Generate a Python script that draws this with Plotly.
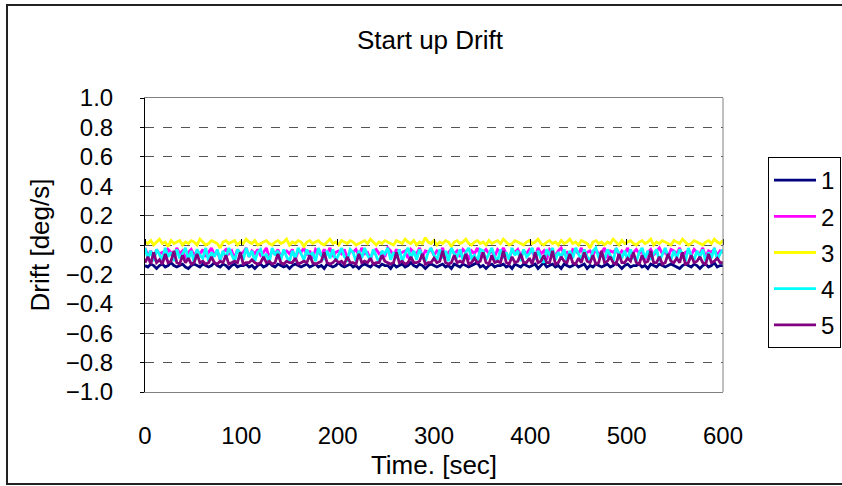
import numpy as np
import plotly.graph_objects as go

time_s = np.arange(0, 601, 3)

series_names = ["1", "2", "3", "4", "5"]
series_colors = ["#000080", "#FF00FF", "#FFFF00", "#00FFFF", "#800080"]

drift_1 = [
    -0.14,-0.15,-0.13,-0.14,-0.16,-0.14,-0.13,-0.15,-0.14,-0.12,
    -0.14,-0.15,-0.14,-0.13,-0.15,-0.16,-0.14,-0.13,-0.14,-0.15,
    -0.13,-0.14,-0.15,-0.14,-0.12,-0.14,-0.15,-0.13,-0.14,-0.16,
    -0.14,-0.13,-0.15,-0.14,-0.14,-0.13,-0.15,-0.14,-0.16,-0.14,
    -0.13,-0.15,-0.14,-0.12,-0.14,-0.15,-0.13,-0.14,-0.15,-0.14,
    -0.16,-0.14,-0.13,-0.14,-0.15,-0.14,-0.13,-0.15,-0.14,-0.13,
    -0.15,-0.14,-0.16,-0.13,-0.14,-0.15,-0.14,-0.12,-0.14,-0.15,
    -0.14,-0.13,-0.15,-0.14,-0.16,-0.14,-0.13,-0.14,-0.15,-0.13,
    -0.14,-0.15,-0.13,-0.14,-0.14,-0.16,-0.13,-0.15,-0.14,-0.13,
    -0.15,-0.14,-0.12,-0.14,-0.15,-0.13,-0.14,-0.16,-0.14,-0.13,
    -0.14,-0.15,-0.14,-0.13,-0.15,-0.14,-0.16,-0.13,-0.14,-0.15,
    -0.13,-0.14,-0.15,-0.14,-0.13,-0.12,-0.15,-0.14,-0.16,-0.14,
    -0.13,-0.15,-0.14,-0.14,-0.13,-0.15,-0.14,-0.16,-0.13,-0.14,
    -0.15,-0.13,-0.14,-0.15,-0.14,-0.13,-0.16,-0.14,-0.12,-0.15,
    -0.14,-0.13,-0.15,-0.14,-0.16,-0.13,-0.14,-0.15,-0.14,-0.13,
    -0.15,-0.14,-0.13,-0.16,-0.14,-0.15,-0.13,-0.14,-0.15,-0.14,
    -0.13,-0.15,-0.14,-0.12,-0.14,-0.16,-0.14,-0.13,-0.15,-0.14,
    -0.14,-0.13,-0.15,-0.14,-0.16,-0.13,-0.14,-0.15,-0.13,-0.14,
    -0.15,-0.14,-0.13,-0.14,-0.15,-0.16,-0.14,-0.13,-0.14,-0.15,
    -0.13,-0.14,-0.16,-0.14,-0.13,-0.15,-0.14,-0.12,-0.15,-0.14,
    -0.14,
]

drift_2 = [
    -0.02,-0.07,-0.04,-0.09,-0.03,-0.06,-0.05,-0.10,-0.03,-0.05,
    -0.08,-0.02,-0.06,-0.04,-0.09,-0.05,-0.03,-0.07,-0.04,-0.06,
    -0.03,-0.08,-0.05,-0.02,-0.07,-0.04,-0.10,-0.05,-0.03,-0.06,
    -0.04,-0.09,-0.03,-0.06,-0.05,-0.02,-0.08,-0.04,-0.06,-0.03,
    -0.07,-0.05,-0.02,-0.09,-0.04,-0.06,-0.03,-0.08,-0.05,-0.04,
    -0.06,-0.03,-0.10,-0.04,-0.05,-0.02,-0.07,-0.04,-0.09,-0.03,
    -0.05,-0.07,-0.03,-0.06,-0.02,-0.08,-0.05,-0.04,-0.06,-0.03,
    -0.09,-0.04,-0.05,-0.03,-0.07,-0.02,-0.06,-0.05,-0.10,-0.04,
    -0.03,-0.06,-0.05,-0.08,-0.02,-0.04,-0.07,-0.03,-0.06,-0.05,
    -0.04,-0.09,-0.03,-0.05,-0.06,-0.02,-0.08,-0.04,-0.05,-0.03,
    -0.07,-0.04,-0.06,-0.02,-0.09,-0.05,-0.03,-0.06,-0.04,-0.08,
    -0.03,-0.05,-0.10,-0.04,-0.06,-0.02,-0.07,-0.05,-0.03,-0.06,
    -0.04,-0.08,-0.03,-0.05,-0.02,-0.06,-0.09,-0.04,-0.05,-0.03,
    -0.07,-0.04,-0.06,-0.03,-0.05,-0.08,-0.02,-0.06,-0.04,-0.10,
    -0.03,-0.05,-0.07,-0.04,-0.02,-0.06,-0.05,-0.09,-0.03,-0.04,
    -0.06,-0.02,-0.08,-0.05,-0.04,-0.07,-0.03,-0.06,-0.05,-0.02,
    -0.09,-0.04,-0.05,-0.03,-0.07,-0.04,-0.06,-0.02,-0.08,-0.05,
    -0.03,-0.06,-0.04,-0.10,-0.05,-0.03,-0.07,-0.04,-0.02,-0.06,
    -0.05,-0.08,-0.03,-0.04,-0.06,-0.02,-0.09,-0.05,-0.04,-0.07,
    -0.03,-0.05,-0.06,-0.02,-0.08,-0.04,-0.05,-0.03,-0.07,-0.04,
    -0.05,
]

drift_3 = [
    0.02,0.01,0.03,0.00,0.02,0.04,0.01,0.02,-0.01,0.03,
    0.01,0.02,0.03,0.00,0.02,0.01,0.03,0.02,0.00,0.04,
    0.02,0.00,0.01,0.03,0.02,0.01,-0.02,0.02,0.03,0.01,
    0.02,0.03,0.00,0.02,0.01,0.04,0.02,0.01,0.03,0.00,
    0.01,0.02,0.03,0.01,0.00,0.02,0.03,0.01,0.02,0.04,
    0.00,0.02,0.01,0.03,0.02,-0.01,0.02,0.03,0.01,0.02,
    0.03,0.01,0.00,0.02,0.04,0.01,0.02,0.00,0.03,0.02,
    0.01,0.03,0.02,0.00,0.01,0.02,0.03,0.01,0.04,0.02,
    0.00,0.02,0.01,0.03,0.02,0.01,0.00,0.03,0.02,0.01,
    0.04,0.02,0.01,0.03,0.00,0.02,0.01,0.05,0.02,0.01,
    0.03,0.00,0.02,0.01,0.03,0.02,-0.01,0.02,0.03,0.01,
    0.02,0.04,0.01,0.00,0.02,0.03,0.01,0.02,0.00,0.03,
    0.01,0.02,0.03,0.01,0.04,0.02,0.00,0.01,0.03,0.02,
    0.01,0.00,0.02,0.03,0.01,0.02,0.04,0.01,0.00,0.02,
    0.03,0.01,0.02,0.00,0.03,0.01,0.02,0.04,0.01,0.02,
    0.00,0.03,0.02,0.01,-0.02,0.02,0.03,0.01,0.02,0.00,
    0.02,0.01,0.04,0.02,0.00,0.03,0.01,0.02,0.03,0.01,
    0.00,0.02,0.03,0.01,0.02,0.04,0.00,0.02,0.01,0.03,
    0.02,0.01,0.00,0.03,0.02,0.01,0.04,0.02,0.00,0.01,
    0.03,0.02,0.01,0.00,0.02,0.03,0.01,0.04,0.02,0.01,
    0.03,
]

drift_4 = [
    -0.02,-0.09,-0.04,-0.11,-0.03,-0.07,-0.10,-0.02,-0.08,-0.05,
    -0.11,-0.03,-0.09,-0.06,-0.02,-0.10,-0.04,-0.12,-0.03,-0.07,
    -0.09,-0.02,-0.11,-0.05,-0.08,-0.03,-0.10,-0.04,-0.09,-0.02,
    -0.07,-0.11,-0.03,-0.06,-0.10,-0.02,-0.08,-0.04,-0.11,-0.05,
    -0.03,-0.09,-0.06,-0.12,-0.02,-0.07,-0.04,-0.10,-0.03,-0.08,
    -0.11,-0.04,-0.09,-0.02,-0.06,-0.10,-0.03,-0.08,-0.05,-0.11,
    -0.02,-0.07,-0.10,-0.04,-0.09,-0.03,-0.11,-0.06,-0.02,-0.08,
    -0.10,-0.03,-0.05,-0.11,-0.04,-0.09,-0.02,-0.07,-0.10,-0.03,
    -0.08,-0.12,-0.04,-0.06,-0.02,-0.10,-0.05,-0.09,-0.03,-0.11,
    -0.06,-0.02,-0.09,-0.04,-0.10,-0.03,-0.08,-0.11,-0.05,-0.02,
    -0.07,-0.10,-0.03,-0.09,-0.04,-0.11,-0.02,-0.06,-0.08,-0.03,
    -0.10,-0.05,-0.02,-0.09,-0.07,-0.11,-0.03,-0.04,-0.10,-0.06,
    -0.02,-0.08,-0.11,-0.03,-0.09,-0.05,-0.10,-0.02,-0.07,-0.04,
    -0.11,-0.03,-0.08,-0.06,-0.02,-0.10,-0.04,-0.09,-0.12,-0.03,
    -0.07,-0.02,-0.10,-0.05,-0.08,-0.03,-0.11,-0.04,-0.09,-0.02,
    -0.06,-0.10,-0.03,-0.08,-0.11,-0.04,-0.02,-0.09,-0.05,-0.10,
    -0.03,-0.07,-0.11,-0.02,-0.06,-0.09,-0.04,-0.10,-0.03,-0.08,
    -0.11,-0.05,-0.02,-0.09,-0.04,-0.10,-0.06,-0.03,-0.11,-0.07,
    -0.02,-0.08,-0.10,-0.04,-0.09,-0.03,-0.06,-0.11,-0.02,-0.07,
    -0.10,-0.04,-0.08,-0.03,-0.11,-0.05,-0.09,-0.02,-0.10,-0.06,
    -0.03,
]

drift_5 = [
    -0.12,-0.08,-0.13,-0.05,-0.12,-0.10,-0.13,-0.06,-0.12,-0.11,
    -0.04,-0.12,-0.13,-0.07,-0.12,-0.09,-0.13,-0.12,-0.06,-0.12,
    -0.11,-0.13,-0.12,-0.08,-0.12,-0.13,-0.11,-0.12,-0.07,-0.13,
    -0.12,-0.11,-0.12,-0.05,-0.13,-0.12,-0.12,-0.10,-0.12,-0.13,
    -0.12,-0.08,-0.12,-0.11,-0.13,-0.12,-0.06,-0.12,-0.13,-0.11,
    -0.12,-0.12,-0.09,-0.13,-0.12,-0.11,-0.12,-0.07,-0.12,-0.13,
    -0.12,-0.11,-0.05,-0.12,-0.13,-0.12,-0.10,-0.12,-0.11,-0.13,
    -0.08,-0.12,-0.12,-0.13,-0.06,-0.12,-0.11,-0.12,-0.09,-0.13,
    -0.12,-0.12,-0.07,-0.11,-0.12,-0.13,-0.12,-0.05,-0.12,-0.11,
    -0.13,-0.12,-0.08,-0.12,-0.12,-0.11,-0.06,-0.13,-0.12,-0.12,
    -0.09,-0.12,-0.11,-0.04,-0.12,-0.13,-0.12,-0.07,-0.12,-0.11,
    -0.12,-0.06,-0.13,-0.12,-0.09,-0.12,-0.11,-0.05,-0.12,-0.13,
    -0.07,-0.12,-0.11,-0.12,-0.04,-0.12,-0.13,-0.08,-0.12,-0.11,
    -0.06,-0.12,-0.12,-0.09,-0.13,-0.05,-0.12,-0.11,-0.07,-0.12,
    -0.12,-0.04,-0.13,-0.12,-0.08,-0.11,-0.12,-0.06,-0.12,-0.13,
    -0.09,-0.12,-0.05,-0.11,-0.12,-0.07,-0.13,-0.12,-0.04,-0.12,
    -0.11,-0.08,-0.12,-0.13,-0.06,-0.12,-0.12,-0.09,-0.11,-0.05,
    -0.12,-0.13,-0.07,-0.12,-0.11,-0.04,-0.12,-0.12,-0.08,-0.13,
    -0.12,-0.06,-0.11,-0.12,-0.09,-0.12,-0.05,-0.13,-0.12,-0.07,
    -0.12,-0.11,-0.08,-0.12,-0.13,-0.06,-0.12,-0.11,-0.09,-0.12,
    -0.12,
]

all_series = [drift_1, drift_2, drift_3, drift_4, drift_5]

x_ticks = [0, 100, 200, 300, 400, 500, 600]
y_ticks = [-1.0, -0.8, -0.6, -0.4, -0.2, 0.0, 0.2, 0.4, 0.6, 0.8, 1.0]

FONT = "Liberation Sans, Arial, sans-serif"

fig = go.Figure()
for name, color, vals in zip(series_names, series_colors, all_series):
    fig.add_trace(go.Scatter(
        x=time_s, y=vals, mode="lines", name=name,
        line=dict(color=color, width=2.8),
        legendgroup=name,
    ))

# empty trace so the overlaid tick axis at y = 0 is drawn
fig.add_trace(go.Scatter(x=[], y=[], xaxis="x2", showlegend=False,
                         hoverinfo="skip"))

fig.update_layout(
    width=842, height=486,
    margin=dict(l=145, r=119, t=98, b=94, autoexpand=False),
    paper_bgcolor="white", plot_bgcolor="white",
    font=dict(family=FONT, size=24, color="black"),
    title=dict(text="Start up Drift", x=430 / 842, xref="container",
               xanchor="center", y=1 - 40 / 486, yref="container",
               yanchor="middle", font=dict(size=26)),
    showlegend=True,
    legend=dict(x=(768 - 145) / 578, y=(392 - 157) / 294,
                xanchor="left", yanchor="top",
                bordercolor="black", borderwidth=1,
                font=dict(size=24), tracegroupgap=2,
                itemwidth=42),
    xaxis=dict(range=[0, 600], tickvals=x_ticks, ticks="",
               showline=True, linecolor="#808080", linewidth=1, mirror=True,
               showgrid=False, zeroline=False,
               ticklabelstandoff=22,
               title=dict(text="Time. [sec]", standoff=8, font=dict(size=26))),
    xaxis2=dict(range=[0, 600], overlaying="x", anchor="free", position=0.5,
                side="top", tickvals=x_ticks, ticks="outside", ticklen=6,
                tickcolor="black", showticklabels=False, showgrid=False,
                showline=False, zeroline=False),
    yaxis=dict(range=[-1, 1], tickvals=y_ticks, tickformat=".1f",
               ticks="outside", ticklen=4, tickcolor="black",
               showline=True, linecolor="black", linewidth=1,
               showgrid=True, gridcolor="#555555", griddash="dash", gridwidth=1,
               zeroline=False, ticklabelstandoff=22,
               title=dict(text="Drift [deg/s]", standoff=8, font=dict(size=26))),
    shapes=[
        dict(type="line", xref="paper", yref="paper", x0=1, x1=1, y0=0, y1=1,
             line=dict(color="#808080", width=1)),
        dict(type="rect", xref="paper", yref="paper",
             x0=(7 - 145) / 578, x1=(860 - 145) / 578,
             y0=(392 - 484) / 294, y1=(392 - 5) / 294,
             line=dict(color="#222222", width=2), layer="below"),
    ],
)

fig.write_html("out.html")
